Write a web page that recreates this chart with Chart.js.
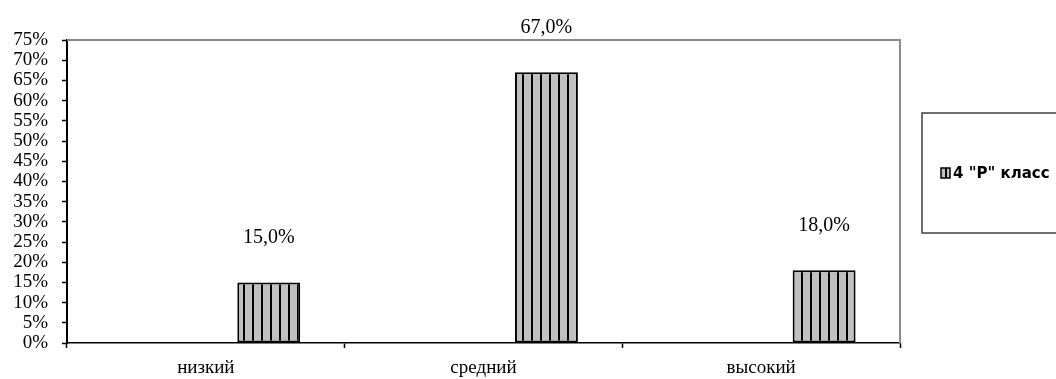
<!DOCTYPE html>
<html>
<head>
<meta charset="utf-8">
<script src="https://cdn.jsdelivr.net/npm/chart.js@4.4.1/dist/chart.umd.min.js"></script>
<style>
  html, body { margin: 0; padding: 0; background: #fff; }
  #wrap { width: 1056px; height: 379px; position: relative; }
</style>
</head>
<body>
<div id="wrap"><canvas id="c" width="1056" height="379"></canvas></div>
<script>
// Уровни и доли учащихся
const categories = ['низкий', 'средний', 'высокий'];
const seriesName = '4 "Р" класс';
const seriesValues = [15.0, 67.0, 18.0];
const yTicks = [0, 5, 10, 15, 20, 25, 30, 35, 40, 45, 50, 55, 60, 65, 70, 75];

// Vertical-stripe fill used by the bars and the legend swatch
function stripePattern(ctx) {
  const p = document.createElement('canvas');
  p.width = 9; p.height = 9;
  const g = p.getContext('2d');
  g.fillStyle = '#c0c0c0';
  g.fillRect(0, 0, 9, 9);
  g.fillStyle = '#000';
  g.fillRect(0, 0, 2, 9);
  return ctx.createPattern(p, 'repeat');
}

const canvas = document.getElementById('c');
const ctx = canvas.getContext('2d');
const stripes = stripePattern(ctx);

const fmt = v => v.toFixed(1).replace('.', ',') + '%';

// Value labels above each bar
const valueLabels = {
  id: 'valueLabels',
  afterDatasetsDraw(chart) {
    const c = chart.ctx;
    const idx = chart.data.datasets.length - 1;
    const meta = chart.getDatasetMeta(idx);
    c.save();
    c.font = '20px "Liberation Serif"';
    c.fillStyle = '#000';
    c.textAlign = 'center';
    c.textBaseline = 'middle';
    meta.data.forEach((bar, i) => {
      c.fillText(fmt(chart.data.datasets[idx].data[i]), bar.x, bar.y - 45);
    });
    c.restore();
  }
};

// Grey top/right frame of the plot area and the boxed legend
const frameAndLegend = {
  id: 'frameAndLegend',
  afterDraw(chart) {
    const c = chart.ctx;
    const a = chart.chartArea;
    c.save();
    c.strokeStyle = '#8a8a8a';
    c.lineWidth = 2;
    c.beginPath();
    c.moveTo(a.left, a.top);
    c.lineTo(a.right, a.top);
    c.lineTo(a.right, a.bottom);
    c.stroke();

    // legend box
    c.strokeStyle = '#404040';
    c.lineWidth = 1.5;
    c.strokeRect(922, 113, 150, 120);

    // swatch
    c.fillStyle = stripes;
    c.fillRect(941, 168, 9, 10);
    c.strokeStyle = '#000';
    c.lineWidth = 1.5;
    c.strokeRect(941, 168, 9, 10);

    c.fillStyle = '#000';
    c.font = 'bold 15px "DejaVu Sans"';
    c.textAlign = 'left';
    c.textBaseline = 'middle';
    c.fillText(chart.data.datasets[chart.data.datasets.length - 1].label, 953, 174);
    c.restore();
  }
};

new Chart(ctx, {
  type: 'bar',
  data: {
    labels: categories,
    datasets: [
      // two empty slots keep the series in the third position of each group
      { label: 'slot1', data: [] },
      { label: 'slot2', data: [] },
      {
        label: seriesName,
        data: seriesValues,
        backgroundColor: stripes,
        borderColor: '#000',
        borderWidth: 2,
        borderSkipped: false
      }
    ]
  },
  options: {
    responsive: false,
    animation: false,
    events: [],
    categoryPercentage: 0.68,
    barPercentage: 1.0,
    layout: { padding: { top: 40, right: 156, left: 0, bottom: 0 } },
    plugins: {
      legend: { display: false },
      tooltip: { enabled: false }
    },
    scales: {
      x: {
        afterFit(s) { s.height = 36; },
        grid: {
          offset: true,
          drawOnChartArea: false,
          drawTicks: true,
          tickLength: 5,
          tickColor: '#000',
          tickWidth: 1.5
        },
        border: { color: '#000', width: 1.5 },
        ticks: {
          color: '#000',
          font: { family: 'Liberation Serif', size: 19 },
          padding: 9,
          maxRotation: 0
        }
      },
      y: {
        min: 0,
        max: 75,
        afterFit(s) { s.width = 67; },
        afterBuildTicks(s) { s.ticks = yTicks.map(v => ({ value: v })); },
        grid: {
          drawOnChartArea: false,
          drawTicks: true,
          tickLength: 5,
          tickColor: '#000',
          tickWidth: 1.5
        },
        border: { color: '#000', width: 2 },
        ticks: {
          color: '#000',
          autoSkip: false,
          font: { family: 'Liberation Serif', size: 19 },
          padding: 14,
          callback: v => v + '%'
        }
      }
    }
  },
  plugins: [valueLabels, frameAndLegend]
});
</script>
</body>
</html>
